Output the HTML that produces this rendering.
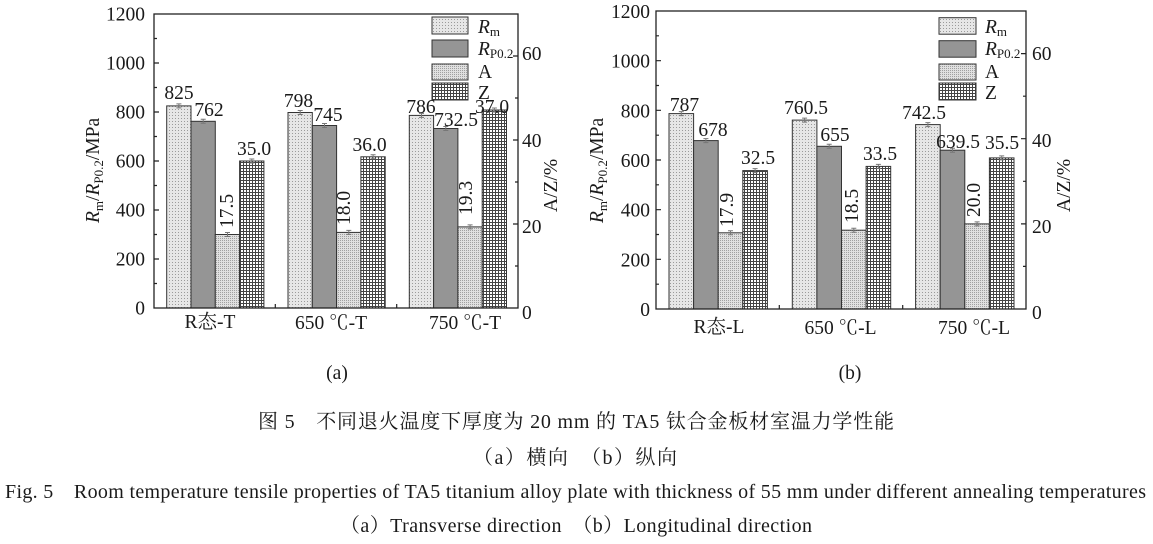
<!DOCTYPE html>
<html>
<head>
<meta charset="utf-8">
<style>
html,body{margin:0;padding:0;background:#fff;}
svg{display:block;}
text{font-family:"Liberation Serif","Times New Roman",serif;fill:#1a1a1a;}
.cjk{font-family:"Liberation Serif","Noto Serif CJK SC",serif;}
</style>
</head>
<body>
<svg width="1153" height="544" viewBox="0 0 1153 544" xmlns="http://www.w3.org/2000/svg">
<defs>
<pattern id="pRm" width="3" height="3" patternUnits="userSpaceOnUse">
<rect width="3" height="3" fill="#e6e6e6"/><rect x="1" y="1" width="1" height="1" fill="#9a9a9a"/>
</pattern>
<pattern id="pA" width="2" height="2" patternUnits="userSpaceOnUse">
<rect width="2" height="2" fill="#e0e0e0"/><rect x="0" y="0" width="1" height="1" fill="#a0a0a0"/>
</pattern>
<pattern id="pZ" width="3" height="3" patternUnits="userSpaceOnUse">
<rect width="3" height="3" fill="#ffffff"/><rect x="0" y="0" width="1" height="3" fill="#444"/><rect x="0" y="0" width="3" height="1" fill="#444"/>
</pattern>
</defs>

<!-- ============ LEFT CHART ============ -->
<g stroke="#333" stroke-width="1">
<rect x="166.7" y="105.9" width="24.3" height="202.1" fill="url(#pRm)"/>
<rect x="191" y="121.3" width="24.3" height="186.7" fill="#959595"/>
<rect x="215.3" y="234.5" width="24.3" height="73.5" fill="url(#pA)"/>
<rect x="239.6" y="161" width="24.3" height="147" fill="url(#pZ)"/>
<rect x="288" y="112.5" width="24.3" height="195.5" fill="url(#pRm)"/>
<rect x="312.3" y="125.5" width="24.3" height="182.5" fill="#959595"/>
<rect x="336.6" y="232.4" width="24.3" height="75.6" fill="url(#pA)"/>
<rect x="360.9" y="156.8" width="24.3" height="151.2" fill="url(#pZ)"/>
<rect x="409.3" y="115.4" width="24.3" height="192.6" fill="url(#pRm)"/>
<rect x="433.6" y="128.5" width="24.3" height="179.5" fill="#959595"/>
<rect x="457.9" y="226.9" width="24.3" height="81.1" fill="url(#pA)"/>
<rect x="482.2" y="110" width="24.3" height="198" fill="url(#pZ)"/>
</g>
<path fill="none" stroke="#777" stroke-width="1" d="M176.4 103.9h5M178.9 103.9v4M176.4 107.9h5M200.7 119.3h5M203.2 119.3v4M200.7 123.3h5M225 232.5h5M227.5 232.5v4M225 236.5h5M249.3 159h5M251.8 159v4M249.3 163h5M297.7 110.5h5M300.2 110.5v4M297.7 114.5h5M322 123.5h5M324.5 123.5v4M322 127.5h5M346.3 230.4h5M348.8 230.4v4M346.3 234.4h5M370.6 154.8h5M373.1 154.8v4M370.6 158.8h5M419 113.4h5M421.5 113.4v4M419 117.4h5M443.3 126.5h5M445.8 126.5v4M443.3 130.5h5M467.6 224.9h5M470.1 224.9v4M467.6 228.9h5M491.9 108h5M494.4 108v4M491.9 112h5"/>
<rect x="154" y="14" width="364" height="294" fill="none" stroke="#222" stroke-width="1.3"/>
<path fill="none" stroke="#222" stroke-width="1.2" d="M154 259h5M154 210h5M154 161h5M154 112h5M154 63h5M154 283.5h3M154 234.5h3M154 185.5h3M154 136.5h3M154 87.5h3M154 38.5h3M518 224h-5M518 140h-5M518 56h-5M518 266h-3M518 182h-3M518 98h-3M275.3 308v-4M396.7 308v-4"/>

<g font-size="19.5" text-anchor="end">
<text x="145" y="20.5">1200</text>
<text x="145" y="69.5">1000</text>
<text x="145" y="118.5">800</text>
<text x="145" y="167.5">600</text>
<text x="145" y="216.5">400</text>
<text x="145" y="265.5">200</text>
<text x="145" y="314.5">0</text>
</g>
<g font-size="19.5">
<text x="522" y="60">60</text>
<text x="522" y="147">40</text>
<text x="522" y="233">20</text>
<text x="522" y="319">0</text>
</g>
<g font-size="19.5" text-anchor="middle">
<text x="179" y="99">825</text>
<text x="209" y="116">762</text>
<text x="254" y="155">35.0</text>
<text x="298.5" y="107">798</text>
<text x="328" y="121">745</text>
<text x="369.5" y="151">36.0</text>
<text x="421" y="113">786</text>
<text x="456" y="126">732.5</text>
<text x="492" y="113">37.0</text>
</g>
<g font-size="19.5">
<text transform="translate(233,228) rotate(-90)">17.5</text>
<text transform="translate(350,225) rotate(-90)">18.0</text>
<text transform="translate(472,215) rotate(-90)">19.3</text>
</g>
<g font-size="19.5" text-anchor="middle">
<text class="cjk" x="210" y="328">R态-T</text>
<text class="cjk" x="331" y="329">650 ℃-T</text>
<text class="cjk" x="465" y="329">750 ℃-T</text>
<text x="337" y="379">(a)</text>
</g>
<text font-size="19.5" transform="translate(99,223) rotate(-90)"><tspan font-style="italic">R</tspan><tspan font-size="13" dy="4">m</tspan><tspan dy="-4">/</tspan><tspan font-style="italic">R</tspan><tspan font-size="13" dy="4">P0.2</tspan><tspan dy="-4">/MPa</tspan></text>
<text font-size="19.5" transform="translate(557,212) rotate(-90)">A/Z/%</text>
<!-- legend left -->
<g stroke="#333" stroke-width="1">
<rect x="432" y="17" width="36" height="17" fill="url(#pRm)"/>
<rect x="432" y="40" width="36" height="17" fill="#959595"/>
<rect x="432" y="64" width="36" height="16" fill="url(#pA)"/>
<rect x="432" y="83" width="36" height="17" fill="url(#pZ)"/>
</g>
<g font-size="19.5">
<text x="478" y="33"><tspan font-style="italic">R</tspan><tspan font-size="13" dy="3">m</tspan></text>
<text x="478" y="55"><tspan font-style="italic">R</tspan><tspan font-size="13" dy="3">P0.2</tspan></text>
<text x="478" y="78">A</text>
<text x="478" y="99">Z</text>
</g>

<!-- ============ RIGHT CHART ============ -->
<g stroke="#333" stroke-width="1">
<rect x="669" y="113.6" width="24.6" height="195.4" fill="url(#pRm)"/>
<rect x="693.6" y="140.6" width="24.6" height="168.4" fill="#959595"/>
<rect x="718.2" y="232.8" width="24.6" height="76.2" fill="url(#pA)"/>
<rect x="742.8" y="170.6" width="24.6" height="138.4" fill="url(#pZ)"/>
<rect x="792.3" y="120.1" width="24.6" height="188.9" fill="url(#pRm)"/>
<rect x="816.9" y="146.3" width="24.6" height="162.7" fill="#959595"/>
<rect x="841.5" y="230.2" width="24.6" height="78.8" fill="url(#pA)"/>
<rect x="866.1" y="166.4" width="24.6" height="142.6" fill="url(#pZ)"/>
<rect x="915.6" y="124.6" width="24.6" height="184.4" fill="url(#pRm)"/>
<rect x="940.2" y="150.2" width="24.6" height="158.8" fill="#959595"/>
<rect x="964.8" y="223.9" width="24.6" height="85.1" fill="url(#pA)"/>
<rect x="989.4" y="157.9" width="24.6" height="151.1" fill="url(#pZ)"/>
</g>
<path fill="none" stroke="#777" stroke-width="1" d="M678.8 111.6h5M681.3 111.6v4M678.8 115.6h5M703.4 138.6h5M705.9 138.6v4M703.4 142.6h5M728 230.8h5M730.5 230.8v4M728 234.8h5M752.6 168.6h5M755.1 168.6v4M752.6 172.6h5M802.1 118.1h5M804.6 118.1v4M802.1 122.1h5M826.7 144.3h5M829.2 144.3v4M826.7 148.3h5M851.3 228.2h5M853.8 228.2v4M851.3 232.2h5M875.9 164.4h5M878.4 164.4v4M875.9 168.4h5M925.4 122.6h5M927.9 122.6v4M925.4 126.6h5M950 148.2h5M952.5 148.2v4M950 152.2h5M974.6 221.9h5M977.1 221.9v4M974.6 225.9h5M999.2 155.9h5M1001.7 155.9v4M999.2 159.9h5"/>
<rect x="656" y="11" width="370" height="298" fill="none" stroke="#222" stroke-width="1.3"/>
<path fill="none" stroke="#222" stroke-width="1.2" d="M656 259.3h5M656 209.7h5M656 160h5M656 110.3h5M656 60.7h5M656 284.2h3M656 234.5h3M656 184.8h3M656 135.2h3M656 85.5h3M656 35.8h3M1026 223.9h-5M1026 138.7h-5M1026 53.6h-5M1026 266.4h-3M1026 181.3h-3M1026 96.2h-3M779.3 309v-4M902.7 309v-4"/>

<g font-size="19.5" text-anchor="end">
<text x="650" y="18">1200</text>
<text x="650" y="67.7">1000</text>
<text x="650" y="117.3">800</text>
<text x="650" y="167">600</text>
<text x="650" y="216.7">400</text>
<text x="650" y="266.3">200</text>
<text x="650" y="316">0</text>
</g>
<g font-size="19.5">
<text x="1032" y="60">60</text>
<text x="1032" y="147">40</text>
<text x="1032" y="233">20</text>
<text x="1032" y="319">0</text>
</g>
<g font-size="19.5" text-anchor="middle">
<text x="684.5" y="111">787</text>
<text x="713" y="136">678</text>
<text x="758" y="164">32.5</text>
<text x="806" y="114">760.5</text>
<text x="835" y="141">655</text>
<text x="880" y="160">33.5</text>
<text x="924" y="119">742.5</text>
<text x="958" y="148">639.5</text>
<text x="1002" y="149">35.5</text>
</g>
<g font-size="19.5">
<text transform="translate(733,227) rotate(-90)">17.9</text>
<text transform="translate(858,223) rotate(-90)">18.5</text>
<text transform="translate(980,217) rotate(-90)">20.0</text>
</g>
<g font-size="19.5" text-anchor="middle">
<text class="cjk" x="719" y="333">R态-L</text>
<text class="cjk" x="840.5" y="334">650 ℃-L</text>
<text class="cjk" x="974" y="334">750 ℃-L</text>
<text x="850" y="379">(b)</text>
</g>
<text font-size="19.5" transform="translate(603,223) rotate(-90)"><tspan font-style="italic">R</tspan><tspan font-size="13" dy="4">m</tspan><tspan dy="-4">/</tspan><tspan font-style="italic">R</tspan><tspan font-size="13" dy="4">P0.2</tspan><tspan dy="-4">/MPa</tspan></text>
<text font-size="19.5" transform="translate(1070,212) rotate(-90)">A/Z/%</text>
<!-- legend right -->
<g stroke="#333" stroke-width="1">
<rect x="939" y="17.7" width="37" height="16.5" fill="url(#pRm)"/>
<rect x="939" y="40.7" width="37" height="16.5" fill="#959595"/>
<rect x="939" y="64" width="37" height="16" fill="url(#pA)"/>
<rect x="939" y="83" width="37" height="17" fill="url(#pZ)"/>
</g>
<g font-size="19.5">
<text x="985" y="33"><tspan font-style="italic">R</tspan><tspan font-size="13" dy="3">m</tspan></text>
<text x="985" y="55"><tspan font-style="italic">R</tspan><tspan font-size="13" dy="3">P0.2</tspan></text>
<text x="985" y="78">A</text>
<text x="985" y="99">Z</text>
</g>

<!-- ============ CAPTIONS ============ -->
<text class="cjk" x="258" y="428" font-size="20" textLength="636" lengthAdjust="spacing">图 5　不同退火温度下厚度为 20 mm 的 TA5 钛合金板材室温力学性能</text>
<text class="cjk" x="473" y="464" font-size="20" textLength="204" lengthAdjust="spacing">（a）横向　（b）纵向</text>
<text class="cjk" x="5" y="498" font-size="20" textLength="1141" lengthAdjust="spacing">Fig. 5　Room temperature tensile properties of TA5 titanium alloy plate with thickness of 55 mm under different annealing temperatures</text>
<text class="cjk" x="340" y="532" font-size="20" textLength="472" lengthAdjust="spacing">（a）Transverse direction　（b）Longitudinal direction</text>
</svg>
</body>
</html>
